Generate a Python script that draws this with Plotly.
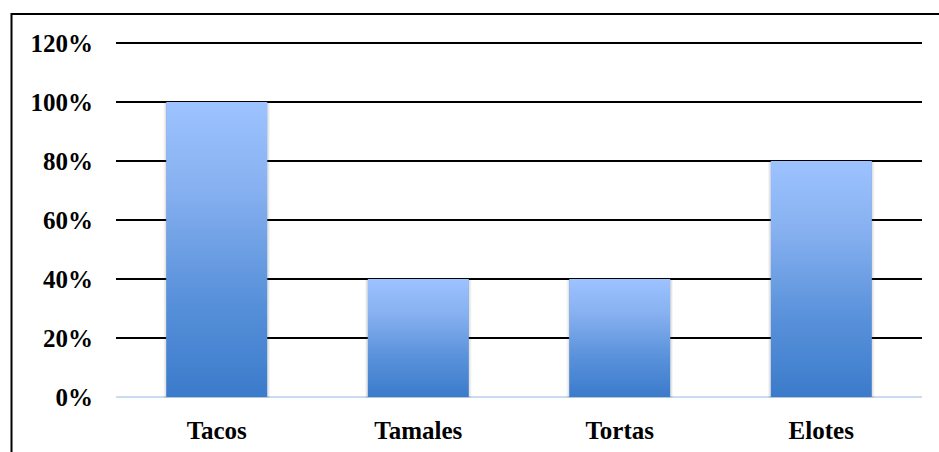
import plotly.graph_objects as go

categories = ["Tacos", "Tamales", "Tortas", "Elotes"]
values = [100, 40, 40, 80]
y_ticks = [0, 20, 40, 60, 80, 100, 120]
y_tick_labels = ["0%", "20%", "40%", "60%", "80%", "100%", "120%"]

W, H = 939, 452
ML, MR, MT, MB = 116, 17, 42, 54
Y_MAX = 120.35
BAR_HALF = 0.25
FONT = "Liberation Serif"

fig = go.Figure()

x_idx = list(range(len(categories)))
fig.add_trace(go.Bar(x=x_idx, y=values, width=2 * BAR_HALF,
                     marker=dict(color="#6FA0E6", line=dict(width=0)),
                     hoverinfo="skip", showlegend=False))

# soft shadow around each bar
for spread, alpha in [(0.014, 0.06), (0.008, 0.10)]:
    for i, v in zip(x_idx, values):
        xs = [i - BAR_HALF - spread, i + BAR_HALF + spread, i + BAR_HALF + spread,
              i - BAR_HALF - spread, i - BAR_HALF - spread]
        ys = [-0.9, -0.9, v - 0.3, v - 0.3, -0.9]
        fig.add_trace(go.Scatter(
            x=xs, y=ys, mode="lines", fill="toself",
            line=dict(width=0, color="rgba(0,0,0,0)"),
            fillcolor=f"rgba(80,80,80,{alpha})",
            hoverinfo="skip", showlegend=False,
        ))

for i, v in zip(x_idx, values):
    xs = [i - BAR_HALF, i + BAR_HALF, i + BAR_HALF, i - BAR_HALF, i - BAR_HALF]
    ys = [0, 0, v, v, 0]
    fig.add_trace(go.Scatter(
        x=xs, y=ys, mode="lines", fill="toself",
        line=dict(width=0, color="rgba(0,0,0,0)"),
        fillgradient=dict(type="vertical",
                          colorscale=[[0, "#3B7BCB"], [0.35, "#5A92DB"], [0.7, "#86B0F0"], [1, "#9DC3FF"]]),
        hoverinfo="skip", showlegend=False,
    ))

pw = W - ML - MR
ph = H - MT - MB
fig.add_shape(type="rect", xref="paper", yref="paper",
              x0=(11.5 - ML) / pw, x1=(W + 5 - ML) / pw,
              y0=-(H + 5 - (H - MB)) / ph, y1=((H - MB) - 14) / ph,
              line=dict(color="black", width=2), fillcolor="rgba(0,0,0,0)", layer="above")

fig.update_layout(
    width=W, height=H,
    margin=dict(l=ML, r=MR, t=MT, b=MB),
    paper_bgcolor="white", plot_bgcolor="white",
    showlegend=False,
    barmode="overlay",
    font=dict(family=FONT, color="black"),
    xaxis=dict(range=[-0.5, 3.5], tickvals=x_idx, ticktext=categories,
               showgrid=False, zeroline=False, showline=False, automargin=False,
               ticks="outside", ticklen=10, tickcolor="rgba(0,0,0,0)",
               tickfont=dict(family=FONT, size=25, color="black", weight="bold")),
    yaxis=dict(range=[-0.3, Y_MAX], tickvals=y_ticks, ticktext=y_tick_labels,
               showgrid=True, gridcolor="black", gridwidth=2,
               zeroline=True, zerolinecolor="#C9DCF2", zerolinewidth=2,
               showline=False, automargin=False,
               ticks="outside", ticklen=17, tickcolor="rgba(0,0,0,0)",
               tickfont=dict(family=FONT, size=25, color="black", weight="bold")),
)

fig.write_html("out.html")
